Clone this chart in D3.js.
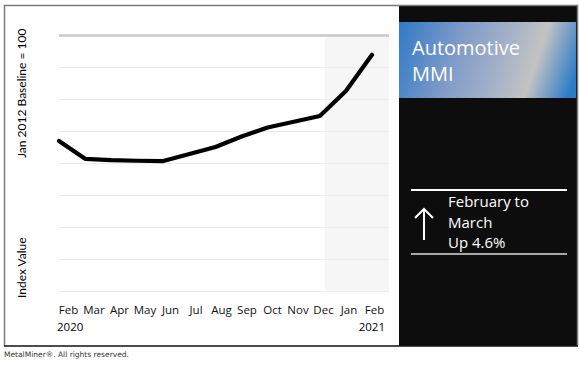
<!DOCTYPE html>
<html lang="en">
<head>
<meta charset="UTF-8">
<title>Automotive MMI</title>
<style>
  body { margin: 0; background: #fff; }
  svg { display: block; }
  .month text { font-family: "Open Sans", sans-serif; font-size: 11.5px; fill: #111; }
</style>
</head>
<body>
<svg width="580" height="365"></svg>
<script src="https://d3js.org/d3.v7.min.js"></script>
<script>
// data (index value, no scale shown on the chart)
const months = ["Feb", "Mar", "Apr", "May", "Jun", "Jul", "Aug", "Sep", "Oct", "Nov", "Dec", "Jan", "Feb "];
const values = [86.9, 81.3, 80.9, 80.7, 80.6, 82.8, 85.0, 88.3, 91.1, 92.9, 94.7, 102.5, 113.8];
const years = ["2020", "2021"];
const gridTicks = [40, 50, 60, 70, 80, 90, 100, 110, 120];
const shadeFrom = "Dec";
const title = ["Automotive", "MMI"];
const change = ["February to", "March", "Up 4.6%"];

const svg = d3.select("svg");

const x = d3.scalePoint().domain(months).range([59, 372]);
const xLabel = d3.scalePoint().domain(months).range([68, 374]);
const y = d3.scaleLinear().domain([40, 120]).range([291, 35]);
const plotRight = 389;

// shaded recent-period band
svg.append("rect")
    .attr("x", x(shadeFrom) + x.step() * 0.2)
    .attr("y", y(120))
    .attr("width", plotRight - x(shadeFrom) - x.step() * 0.2)
    .attr("height", y(40) - y(120))
    .attr("fill", "#f6f6f6");

// gridlines
svg.append("g")
    .selectAll("line")
    .data(gridTicks)
    .join("line")
    .attr("x1", x.range()[0])
    .attr("x2", plotRight)
    .attr("y1", d => y(d) + 0.5)
    .attr("y2", d => y(d) + 0.5)
    .attr("stroke", d => d === 120 ? "#c9c9c9" : "#ececec")
    .attr("stroke-width", d => d === 120 ? 2.5 : 1);

// the index line
const line = d3.line()
    .x((d, i) => x(months[i]))
    .y(d => y(d));

svg.append("path")
    .datum(values)
    .attr("d", line)
    .attr("fill", "none")
    .attr("stroke", "#000")
    .attr("stroke-width", 4.2)
    .attr("stroke-linejoin", "round")
    .attr("stroke-linecap", "round");

// month axis
const xAxis = svg.append("g")
    .attr("class", "month")
    .attr("transform", "translate(0,306)")
    .call(d3.axisBottom(xLabel).tickSize(0).tickPadding(0));
xAxis.select(".domain").remove();
xAxis.selectAll("text").attr("dy", "0.71em");

svg.append("text")
    .attr("x", 57).attr("y", 331)
    .style("font", "11.5px 'Open Sans', sans-serif")
    .text(years[0]);
svg.append("text")
    .attr("x", 385).attr("y", 331)
    .attr("text-anchor", "end")
    .style("font", "11.5px 'Open Sans', sans-serif")
    .text(years[1]);

// y axis titles
svg.append("text")
    .attr("transform", "translate(26,158) rotate(-90)")
    .style("font", "12px Lato, sans-serif")
    .text("Jan 2012 Baseline = 100");
svg.append("text")
    .attr("transform", "translate(26,298) rotate(-90)")
    .style("font", "12px Lato, sans-serif")
    .text("Index Value");

// right panel
svg.append("rect")
    .attr("x", 399).attr("y", 5)
    .attr("width", 178).attr("height", 341)
    .attr("fill", "#0d0d0d");

const grad = svg.append("defs").append("linearGradient")
    .attr("id", "hdr")
    .attr("gradientUnits", "userSpaceOnUse")
    .attr("x1", 399).attr("y1", 10)
    .attr("x2", 577).attr("y2", 70);
[[0, "#2a78c6"], [0.35, "#7e9ac8"], [0.6, "#a4b1c8"], [0.78, "#c3c3c3"], [1, "#2d7cc8"]]
    .forEach(s => grad.append("stop").attr("offset", s[0]).attr("stop-color", s[1]));

svg.append("rect")
    .attr("x", 399).attr("y", 22)
    .attr("width", 177).attr("height", 76)
    .attr("fill", "url(#hdr)");

svg.append("g")
    .selectAll("text")
    .data(title)
    .join("text")
    .attr("x", 412)
    .attr("y", (d, i) => 55 + i * 26)
    .attr("fill", "#fff")
    .style("font", "20px 'Open Sans', sans-serif")
    .text(d => d);

svg.append("line")
    .attr("x1", 411).attr("x2", 567)
    .attr("y1", 190).attr("y2", 190)
    .attr("stroke", "#fff").attr("stroke-width", 2);
svg.append("line")
    .attr("x1", 411).attr("x2", 567)
    .attr("y1", 254).attr("y2", 254)
    .attr("stroke", "#ddd").attr("stroke-width", 1.5);

svg.append("path")
    .attr("d", "M424,240V209M415,218L424,209L433,218")
    .attr("fill", "none")
    .attr("stroke", "#fff")
    .attr("stroke-width", 2);

svg.append("g")
    .selectAll("text")
    .data(change)
    .join("text")
    .attr("x", 448)
    .attr("y", (d, i) => 207 + i * 20.5)
    .attr("fill", "#fff")
    .style("font", "15px 'Open Sans', sans-serif")
    .text(d => d);

// frame
svg.append("path")
    .attr("d", "M4.5,346V5.5H577.5V346")
    .attr("fill", "none")
    .attr("stroke", "#7a7a7a")
    .attr("stroke-width", 1.5);
svg.append("line")
    .attr("x1", 4).attr("x2", 578)
    .attr("y1", 346).attr("y2", 346)
    .attr("stroke", "#111").attr("stroke-width", 1.5);

svg.append("text")
    .attr("x", 4).attr("y", 357)
    .attr("fill", "#333")
    .style("font", "7.5px 'DejaVu Sans', sans-serif")
    .text("MetalMiner®. All rights reserved.");
</script>
</body>
</html>
